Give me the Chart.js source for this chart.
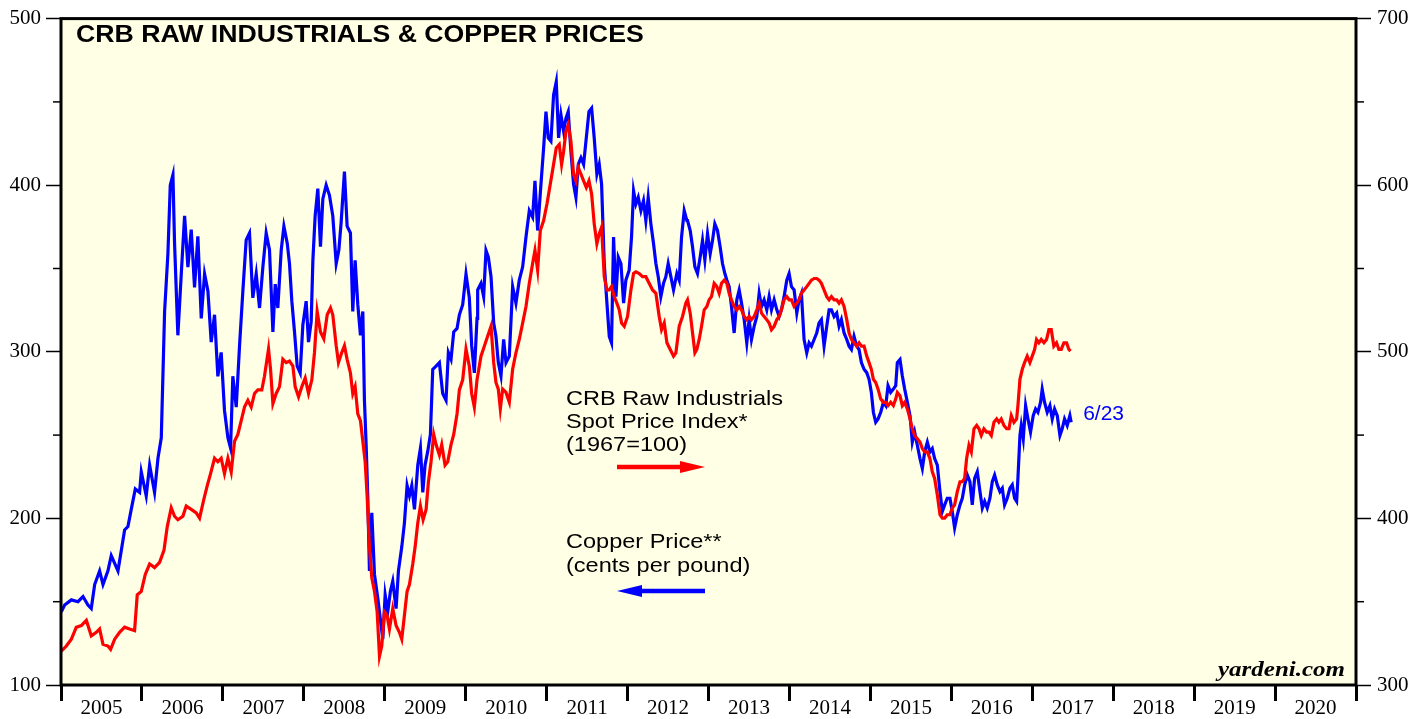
<!DOCTYPE html>
<html>
<head>
<meta charset="utf-8">
<title>CRB Raw Industrials & Copper Prices</title>
<script src="https://cdn.jsdelivr.net/npm/chart.js@4.4.1/dist/chart.umd.min.js"></script>
<style>
  html, body { margin: 0; padding: 0; background: #fff; }
  canvas { display: block; }
</style>
</head>
<body>
<canvas id="crbChart" width="1427" height="719"></canvas>
<script>
// copper price, cents per pound (left axis)
var copperYears = [
  2005.004, 2005.045, 2005.128, 2005.210, 2005.272, 2005.333, 2005.374, 2005.416, 2005.477, 2005.519,
  2005.580, 2005.621, 2005.704, 2005.745, 2005.786, 2005.827, 2005.868, 2005.918, 2005.971, 2005.992,
  2006.053, 2006.095, 2006.156, 2006.198, 2006.239, 2006.280, 2006.321, 2006.350, 2006.383, 2006.403,
  2006.444, 2006.486, 2006.527, 2006.568, 2006.609, 2006.650, 2006.691, 2006.733, 2006.774, 2006.815,
  2006.856, 2006.897, 2006.938, 2006.979, 2007.020, 2007.062, 2007.095, 2007.123, 2007.165, 2007.206,
  2007.247, 2007.288, 2007.329, 2007.370, 2007.412, 2007.453, 2007.494, 2007.535, 2007.576,
  2007.618, 2007.647, 2007.679, 2007.721, 2007.754, 2007.795, 2007.823, 2007.852, 2007.885, 2007.918,
  2007.955, 2007.988, 2008.029, 2008.058, 2008.091, 2008.112, 2008.140, 2008.173, 2008.206, 2008.235,
  2008.276, 2008.317, 2008.358, 2008.400, 2008.433, 2008.461, 2008.502, 2008.535, 2008.576, 2008.605,
  2008.634, 2008.667, 2008.700, 2008.729, 2008.749, 2008.770, 2008.790, 2008.811, 2008.840, 2008.873,
  2008.914, 2008.955, 2008.976, 2009.005, 2009.037, 2009.070, 2009.099, 2009.140, 2009.169, 2009.210,
  2009.243, 2009.276, 2009.305, 2009.334, 2009.367, 2009.408, 2009.441, 2009.470, 2009.498, 2009.531,
  2009.564, 2009.593, 2009.634, 2009.675, 2009.716, 2009.757, 2009.786, 2009.819, 2009.852, 2009.893,
  2009.922, 2009.963, 2010.004, 2010.045, 2010.074, 2010.107, 2010.140,
  2010.148, 2010.189, 2010.222, 2010.251, 2010.280, 2010.313, 2010.346, 2010.374, 2010.403, 2010.436,
  2010.469, 2010.498, 2010.539, 2010.580, 2010.621, 2010.662, 2010.704, 2010.745, 2010.786, 2010.827,
  2010.856, 2010.889, 2010.930, 2010.963, 2010.992, 2011.020, 2011.053, 2011.086, 2011.119, 2011.148,
  2011.177, 2011.210, 2011.239, 2011.267, 2011.300, 2011.333, 2011.362, 2011.391, 2011.424, 2011.457,
  2011.490, 2011.523, 2011.556, 2011.588, 2011.621, 2011.650, 2011.679, 2011.712, 2011.745, 2011.774,
  2011.802, 2011.827, 2011.856, 2011.885, 2011.918, 2011.951, 2011.979, 2012.020, 2012.049, 2012.074,
  2012.103, 2012.132, 2012.165, 2012.197, 2012.226, 2012.255, 2012.288, 2012.321, 2012.350, 2012.379,
  2012.411, 2012.444, 2012.473, 2012.502, 2012.535, 2012.568, 2012.609, 2012.638, 2012.667, 2012.700,
  2012.732,
  2012.741, 2012.774, 2012.803, 2012.832, 2012.864, 2012.897, 2012.926, 2012.955, 2012.988, 2013.021,
  2013.050, 2013.078, 2013.111, 2013.144, 2013.173, 2013.202, 2013.227, 2013.255, 2013.284, 2013.317,
  2013.350, 2013.379, 2013.408, 2013.441, 2013.473, 2013.502, 2013.531, 2013.564, 2013.597, 2013.626,
  2013.655, 2013.687, 2013.720, 2013.749, 2013.778, 2013.811, 2013.844, 2013.873, 2013.901, 2013.934,
  2013.967, 2013.996, 2014.025, 2014.058, 2014.091, 2014.119, 2014.148, 2014.181, 2014.214, 2014.243,
  2014.272, 2014.305, 2014.337, 2014.366, 2014.395, 2014.428, 2014.461, 2014.490, 2014.519, 2014.552,
  2014.584, 2014.613, 2014.642, 2014.675, 2014.708, 2014.737, 2014.766, 2014.798, 2014.831, 2014.860,
  2014.889, 2014.922, 2014.955, 2014.984, 2015.012, 2015.037, 2015.066, 2015.095, 2015.128, 2015.161,
  2015.190, 2015.218, 2015.251, 2015.284, 2015.313,
  2015.333, 2015.366, 2015.395, 2015.424, 2015.457, 2015.490, 2015.518, 2015.547, 2015.580, 2015.613,
  2015.642, 2015.671, 2015.704, 2015.736, 2015.765, 2015.794, 2015.827, 2015.860, 2015.889, 2015.918,
  2015.950, 2015.983, 2016.012, 2016.041, 2016.074, 2016.107, 2016.136, 2016.165, 2016.198, 2016.230,
  2016.259, 2016.288, 2016.321, 2016.354, 2016.383, 2016.412, 2016.444, 2016.477, 2016.506, 2016.535,
  2016.568, 2016.601, 2016.630, 2016.658, 2016.691, 2016.724, 2016.753, 2016.782, 2016.807, 2016.823,
  2016.848, 2016.864, 2016.889, 2016.918, 2016.947, 2016.979, 2017.012, 2017.041, 2017.070, 2017.103,
  2017.123, 2017.152, 2017.185, 2017.218, 2017.247, 2017.276, 2017.309, 2017.342, 2017.370, 2017.399,
  2017.432, 2017.465, 2017.481
];
var copperPrices = [
  143.9, 148.0, 151.1, 150.0, 153.1, 148.0, 145.9, 160.3, 168.5, 160.3,
  168.5, 177.7, 168.5, 180.8, 193.1, 195.1, 205.4, 217.7, 215.6, 227.9,
  213.6, 232.0, 215.6, 236.1, 248.4, 324.2, 359.0, 400.0, 406.2, 365.2,
  309.9, 346.7, 381.6, 350.8, 373.4, 338.6, 369.3, 320.1, 346.7, 336.5,
  305.8, 322.2, 285.3, 299.6, 264.8, 248.4, 242.2, 285.3, 266.8, 303.7,
  336.5, 367.2, 371.3, 332.4, 346.7, 326.3, 350.8, 371.3, 361.1,
  311.9, 340.6, 326.3, 361.1, 375.4, 365.2, 352.9, 330.4, 311.9, 291.4,
  287.3, 316.0, 330.4, 305.8, 318.1, 354.9, 381.6, 398.0, 363.1, 391.8,
  400.0, 393.9, 381.6, 352.9, 361.1, 377.5, 408.2, 375.4, 371.3, 324.2,
  354.9, 328.3, 309.9, 324.2, 270.9, 244.3, 213.6, 168.5, 203.3, 166.4,
  152.1, 135.7, 127.5, 154.1, 143.9, 156.2, 162.3, 145.9, 168.5, 182.8,
  197.2, 219.7, 213.6, 219.7, 205.4, 232.0, 242.2, 215.6, 232.0, 240.2,
  250.4, 289.4, 291.4, 293.5, 275.0, 270.9, 299.6, 295.5, 311.9, 314.0,
  322.2, 328.3, 346.7, 332.4, 303.7, 287.3, 320.1,
  337.1, 341.1, 333.1, 360.9, 356.9, 345.1, 317.3, 309.3, 293.5, 285.5,
  307.4, 293.5, 297.4, 339.1, 329.2, 343.0, 351.0, 368.9, 384.7, 380.8,
  402.6, 372.8, 400.6, 422.4, 444.2, 428.4, 426.4, 454.2, 462.1, 428.4,
  442.3, 432.4, 440.3, 444.2, 420.4, 400.6, 392.7, 412.5, 416.5, 412.5,
  428.4, 444.2, 446.2, 428.4, 406.6, 412.5, 400.6, 353.0, 329.2, 309.3,
  305.4, 368.9, 333.1, 356.9, 353.0, 329.2, 343.0, 349.0, 368.9, 396.6,
  388.7, 392.7, 384.7, 390.7, 378.8, 392.7, 376.8, 364.9, 353.0, 345.1,
  333.1, 341.1, 345.1, 353.0, 345.1, 337.1, 347.0, 343.0, 368.9, 384.7,
  378.8,
  378.8, 372.8, 362.9, 351.0, 347.0, 356.9, 366.9, 355.0, 370.9, 358.9,
  366.9, 376.8, 372.8, 362.9, 353.0, 347.0, 343.0, 339.1, 327.2, 311.3,
  331.2, 337.1, 329.2, 319.3, 305.4, 319.3, 307.4, 315.3, 321.2, 335.1,
  327.2, 331.2, 325.2, 333.1, 325.2, 331.2, 325.2, 321.2, 325.2, 333.1,
  343.0, 347.0, 339.1, 337.1, 323.2, 331.2, 335.1, 307.4, 299.4, 305.4,
  303.4, 307.4, 311.3, 317.3, 319.3, 303.4, 315.3, 325.2, 325.2, 321.2,
  323.2, 315.3, 319.3, 311.3, 307.4, 303.4, 301.4, 309.3, 303.4, 301.4,
  293.5, 289.5, 287.5, 283.5, 275.6, 263.7, 257.7, 259.7, 263.7, 269.7,
  267.7, 279.6, 275.6, 277.6, 279.6,
  293.5, 295.4, 285.5, 277.6, 269.7, 261.7, 245.8, 251.8, 243.9, 235.9,
  230.0, 239.9, 245.8, 239.9, 241.9, 235.9, 232.0, 216.1, 204.2, 208.1,
  212.1, 212.1, 204.2, 194.3, 202.2, 208.1, 212.1, 220.1, 226.0, 222.0,
  208.1, 224.0, 228.0, 216.1, 206.2, 210.2, 206.2, 212.1, 222.0, 226.0,
  220.1, 216.1, 218.1, 208.1, 212.1, 218.1, 220.1, 212.1, 210.2, 224.0,
  249.8, 255.8, 247.8, 267.7, 259.7, 251.8, 261.7, 265.7, 263.7, 269.7,
  277.6, 269.7, 263.7, 267.7, 259.7, 265.7, 261.7, 249.8, 253.8, 259.7,
  255.8, 261.7, 257.7
];

// CRB raw industrials spot price index, 1967=100 (right axis)
var crbYears = [
  2005.004, 2005.066, 2005.128, 2005.189, 2005.251, 2005.313, 2005.374, 2005.436, 2005.477, 2005.519,
  2005.580, 2005.613, 2005.663, 2005.724, 2005.786, 2005.848, 2005.909, 2005.942, 2005.992, 2006.041,
  2006.095, 2006.156, 2006.218, 2006.272, 2006.313, 2006.362, 2006.403, 2006.444, 2006.506, 2006.547,
  2006.609, 2006.671, 2006.712, 2006.765, 2006.807, 2006.848, 2006.897, 2006.938, 2006.979, 2007.020,
  2007.062, 2007.103, 2007.144, 2007.185, 2007.226, 2007.267, 2007.309, 2007.350, 2007.391, 2007.432,
  2007.481, 2007.514, 2007.564,
  2007.589, 2007.618, 2007.659, 2007.700, 2007.741, 2007.782, 2007.823, 2007.865, 2007.893, 2007.935,
  2007.976, 2008.017, 2008.058, 2008.099, 2008.132, 2008.165, 2008.206, 2008.247, 2008.289, 2008.330,
  2008.358, 2008.400, 2008.428, 2008.469, 2008.502, 2008.535, 2008.576, 2008.605, 2008.634, 2008.667,
  2008.700, 2008.729, 2008.758, 2008.782, 2008.811, 2008.840, 2008.873, 2008.906, 2008.935, 2008.963,
  2008.996, 2009.029, 2009.058, 2009.099, 2009.140, 2009.181, 2009.210, 2009.243, 2009.276, 2009.305,
  2009.346, 2009.375, 2009.408, 2009.441, 2009.474, 2009.511, 2009.539, 2009.572, 2009.605, 2009.634,
  2009.675, 2009.704, 2009.745, 2009.778, 2009.819, 2009.852, 2009.893, 2009.922, 2009.963, 2010.004,
  2010.045, 2010.074, 2010.107, 2010.140,
  2010.189, 2010.230, 2010.271, 2010.313, 2010.346, 2010.374, 2010.403, 2010.428, 2010.457, 2010.498,
  2010.539, 2010.580, 2010.621, 2010.662, 2010.704, 2010.745, 2010.786, 2010.827, 2010.856, 2010.889,
  2010.922, 2010.963, 2011.004, 2011.045, 2011.086, 2011.119, 2011.156, 2011.185, 2011.210, 2011.239,
  2011.267, 2011.300, 2011.333, 2011.362, 2011.391, 2011.424, 2011.457, 2011.490, 2011.523, 2011.556,
  2011.588, 2011.621, 2011.650, 2011.679, 2011.712, 2011.745, 2011.774, 2011.802, 2011.835, 2011.868,
  2011.897, 2011.926, 2011.959, 2012.000, 2012.041, 2012.074, 2012.103, 2012.144, 2012.185, 2012.226,
  2012.267, 2012.309, 2012.350, 2012.391, 2012.420, 2012.453, 2012.486, 2012.527, 2012.568, 2012.597,
  2012.638, 2012.679, 2012.720,
  2012.741, 2012.774, 2012.803, 2012.832, 2012.856, 2012.885, 2012.914, 2012.947, 2012.980, 2013.008,
  2013.037, 2013.070, 2013.103, 2013.132, 2013.161, 2013.194, 2013.227, 2013.255, 2013.284, 2013.317,
  2013.350, 2013.379, 2013.408, 2013.441, 2013.473, 2013.502, 2013.531, 2013.564, 2013.597, 2013.626,
  2013.655, 2013.687, 2013.720, 2013.749, 2013.778, 2013.811, 2013.844, 2013.873, 2013.901, 2013.934,
  2013.967, 2013.996, 2014.025, 2014.058, 2014.091, 2014.119, 2014.148, 2014.181, 2014.214, 2014.243,
  2014.272, 2014.305, 2014.337, 2014.366, 2014.395, 2014.428, 2014.461, 2014.490, 2014.519, 2014.552,
  2014.584, 2014.613, 2014.642, 2014.675, 2014.708, 2014.737, 2014.766, 2014.798, 2014.831, 2014.860,
  2014.889, 2014.922, 2014.955, 2014.984, 2015.012, 2015.037, 2015.066, 2015.095, 2015.128, 2015.161,
  2015.190, 2015.218, 2015.251, 2015.284, 2015.313,
  2015.333, 2015.366, 2015.395, 2015.424, 2015.457, 2015.490, 2015.518, 2015.547, 2015.580, 2015.613,
  2015.642, 2015.671, 2015.704, 2015.736, 2015.765, 2015.794, 2015.827, 2015.860, 2015.889, 2015.918,
  2015.950, 2015.983, 2016.012, 2016.041, 2016.074, 2016.107, 2016.136, 2016.165, 2016.189, 2016.218,
  2016.247, 2016.280, 2016.313, 2016.342, 2016.370, 2016.403, 2016.436, 2016.465, 2016.494, 2016.527,
  2016.560, 2016.588, 2016.617, 2016.650, 2016.683, 2016.712, 2016.741, 2016.774, 2016.807, 2016.823,
  2016.848, 2016.877, 2016.905, 2016.938, 2016.971, 2017.000, 2017.029, 2017.053, 2017.082, 2017.111,
  2017.144, 2017.177, 2017.206, 2017.235, 2017.267, 2017.300, 2017.329, 2017.358, 2017.391, 2017.424,
  2017.453, 2017.473
];
var crbIndex = [
  320.3, 323.4, 327.5, 334.7, 335.7, 338.8, 329.5, 331.6, 333.6, 324.4,
  323.4, 321.4, 327.5, 331.6, 334.7, 333.6, 332.6, 354.1, 356.2, 366.4,
  372.6, 370.5, 373.6, 380.8, 395.1, 406.4, 401.3, 399.2, 401.3, 407.4,
  405.4, 403.3, 400.2, 411.5, 419.7, 426.9, 436.1, 434.0, 436.1, 426.9,
  436.1, 427.9, 446.3, 450.4, 458.6, 466.8, 470.9, 466.8, 475.0, 477.1,
  477.1, 485.3, 501.7,
  489.4, 468.9, 475.0, 479.1, 495.5, 493.5, 494.5, 491.4, 479.1, 473.0,
  479.1, 484.2, 475.0, 483.2, 499.6, 524.2, 511.9, 507.8, 522.2, 526.3,
  522.2, 503.7, 493.5, 499.6, 503.7, 495.5, 487.3, 475.0, 479.1, 462.7,
  458.6, 446.3, 434.0, 413.6, 382.8, 364.4, 356.2, 343.9, 317.3, 323.4,
  343.9, 341.8, 333.6, 345.9, 335.7, 331.6, 327.5, 341.8, 356.2, 360.3,
  372.6, 382.8, 397.2, 407.4, 399.2, 405.4, 421.8, 434.0, 450.4, 444.3,
  438.1, 444.3, 432.0, 434.0, 444.3, 450.4, 462.7, 477.1, 483.2, 501.7,
  491.4, 475.0, 466.8, 483.2,
  497.4, 503.4, 509.3, 515.3, 493.5, 481.6, 477.6, 465.7, 477.6, 475.6,
  469.7, 489.5, 499.4, 507.4, 517.3, 527.2, 541.1, 553.0, 560.9, 549.0,
  572.8, 578.8, 588.7, 600.6, 612.5, 622.4, 624.4, 612.5, 620.4, 632.4,
  636.3, 626.4, 606.6, 602.6, 610.5, 606.6, 602.6, 598.6, 602.6, 594.7,
  576.8, 564.9, 570.9, 574.8, 545.1, 537.1, 537.1, 539.1, 533.1, 529.2,
  525.2, 517.3, 515.3, 521.2, 537.1, 547.0, 548.0, 547.0, 545.1, 545.1,
  541.1, 537.1, 535.1, 521.2, 513.3, 517.3, 505.4, 501.4, 497.4, 499.4,
  515.3, 521.2, 529.2,
  531.2, 523.2, 511.3, 499.4, 501.4, 507.4, 515.3, 525.2, 527.2, 531.2,
  533.1, 541.1, 539.1, 535.1, 541.1, 543.0, 541.1, 535.1, 531.2, 527.2,
  525.2, 527.2, 525.2, 521.2, 519.3, 521.2, 519.3, 521.2, 525.2, 529.2,
  523.2, 521.2, 519.3, 517.3, 513.3, 515.3, 519.3, 521.2, 525.2, 531.2,
  533.1, 531.2, 531.2, 527.2, 529.2, 531.2, 535.1, 537.1, 539.1, 541.1,
  543.0, 544.0, 544.0, 543.0, 541.1, 537.1, 533.1, 531.2, 533.1, 531.2,
  531.2, 529.2, 531.2, 527.2, 519.3, 511.3, 507.4, 505.4, 503.4, 505.4,
  503.4, 503.4, 497.4, 493.5, 489.5, 483.5, 481.6, 477.6, 471.6, 469.7,
  469.7, 467.7, 469.7, 467.7, 471.6,
  475.6, 473.6, 467.7, 469.7, 465.7, 459.7, 453.8, 449.8, 447.8, 445.8,
  441.9, 439.9, 439.9, 435.9, 428.0, 424.0, 414.1, 402.2, 400.2, 400.2,
  402.2, 402.2, 406.2, 408.1, 416.1, 422.0, 422.0, 424.0, 435.9, 443.9,
  439.9, 453.8, 455.8, 453.8, 449.8, 453.8, 451.8, 451.8, 449.8, 457.7,
  459.7, 457.7, 459.7, 455.8, 453.8, 453.8, 461.7, 457.7, 459.7, 467.7,
  483.5, 489.5, 493.5, 497.4, 493.5, 497.4, 501.4, 507.4, 505.4, 507.4,
  505.4, 507.4, 513.3, 513.3, 503.4, 505.4, 501.4, 501.4, 505.4, 505.4,
  501.4, 500.4
];

var yearLabels = ["2005", "2006", "2007", "2008", "2009", "2010", "2011", "2012",
  "2013", "2014", "2015", "2016", "2017", "2018", "2019", "2020"];
var lastDateLabel = "6/23";

var copperPoints = copperYears.map(function(yr, i) { return { x: yr, y: copperPrices[i] }; });
var crbPoints = crbYears.map(function(yr, i) { return { x: yr, y: crbIndex[i] }; });

// text stretched horizontally to match the original typesetting
function stretchText(ctx, txt, x, y, font, color, sx, align) {
  ctx.save();
  ctx.font = font;
  ctx.fillStyle = color;
  ctx.textBaseline = 'alphabetic';
  ctx.textAlign = align || 'left';
  ctx.translate(x, y);
  ctx.scale(sx, 1);
  ctx.fillText(txt, 0, 0);
  ctx.restore();
}

function arrow(ctx, fromX, toX, y, color) {
  var dir = toX > fromX ? 1 : -1;
  var headLen = 25, headHalf = 6;
  ctx.save();
  ctx.strokeStyle = color;
  ctx.fillStyle = color;
  ctx.lineWidth = 4.5;
  ctx.beginPath();
  ctx.moveTo(fromX, y);
  ctx.lineTo(toX - dir * headLen, y);
  ctx.stroke();
  ctx.beginPath();
  ctx.moveTo(toX, y);
  ctx.lineTo(toX - dir * headLen, y - headHalf);
  ctx.lineTo(toX - dir * headLen, y + headHalf);
  ctx.closePath();
  ctx.fill();
  ctx.restore();
}

var paperPlugin = {
  id: 'paper',
  beforeDraw: function(chart) {
    var a = chart.chartArea, ctx = chart.ctx;
    ctx.save();
    ctx.fillStyle = '#FFFFE5';
    ctx.fillRect(a.left, a.top, a.right - a.left, a.bottom - a.top);
    ctx.restore();
  },
  afterDraw: function(chart) {
    var a = chart.chartArea, ctx = chart.ctx;
    ctx.save();
    // frame
    ctx.strokeStyle = '#000';
    ctx.lineWidth = 3;
    ctx.strokeRect(a.left, a.top, a.right - a.left, a.bottom - a.top);

    // short minor ticks on both value axes
    ctx.lineWidth = 1.5;
    ['yLeft', 'yRight'].forEach(function(id) {
      var sc = chart.scales[id];
      sc.ticks.forEach(function(t) {
        if (t.value % 100 === 0) return;
        var py = sc.getPixelForValue(t.value);
        ctx.beginPath();
        if (id === 'yLeft') { ctx.moveTo(a.left - 8, py); ctx.lineTo(a.left, py); }
        else { ctx.moveTo(a.right, py); ctx.lineTo(a.right + 8, py); }
        ctx.stroke();
      });
    });
    ctx.restore();

    stretchText(ctx, 'CRB RAW INDUSTRIALS & COPPER PRICES', 76, 42, 'bold 23px "Liberation Sans"', '#000', 1.16);

    var legendFont = '21px "Liberation Sans"';
    stretchText(ctx, 'CRB Raw Industrials', 566, 405, legendFont, '#000', 1.12);
    stretchText(ctx, 'Spot Price Index*', 566, 428, legendFont, '#000', 1.12);
    stretchText(ctx, '(1967=100)', 566, 451, legendFont, '#000', 1.12);
    arrow(ctx, 617, 705, 467, '#FF0000');

    stretchText(ctx, 'Copper Price**', 566, 548, legendFont, '#000', 1.12);
    stretchText(ctx, '(cents per pound)', 566, 572, legendFont, '#000', 1.12);
    arrow(ctx, 705, 617, 591, '#0000FF');

    var lastX = chart.scales.x.getPixelForValue(copperYears[copperYears.length - 1]);
    stretchText(ctx, lastDateLabel, lastX + 12, 420, '20px "Liberation Sans"', '#0000FF', 1.05);

    stretchText(ctx, 'yardeni.com', 1345, 676, 'bold italic 21px "Liberation Serif"', '#000', 1.19, 'right');
  }
};

var ctx = document.getElementById('crbChart');
var crbChart = new Chart(ctx, {
  type: 'line',
  data: {
    datasets: [{
      label: 'CRB Raw Industrials Spot Price Index',
      data: crbPoints,
      yAxisID: 'yRight',
      borderColor: '#FF0000',
      borderWidth: 3.2,
      pointRadius: 0,
      tension: 0,
      order: 1
    }, {
      label: 'Copper Price',
      data: copperPoints,
      yAxisID: 'yLeft',
      borderColor: '#0000FF',
      borderWidth: 3.2,
      pointRadius: 0,
      tension: 0,
      order: 2
    }]
  },
  options: {
    responsive: false,
    animation: false,
    layout: { padding: { top: 13, left: 0, right: 0, bottom: 0 } },
    plugins: { legend: { display: false }, tooltip: { enabled: false } },
    scales: {
      x: {
        type: 'linear',
        min: 2005,
        max: 2021,
        afterFit: function(s) { s.height = 34; },
        border: { display: false },
        grid: { drawOnChartArea: false, tickLength: 16, tickWidth: 3, tickColor: '#000' },
        ticks: {
          stepSize: 1,
          autoSkip: false,
          maxRotation: 0,
          labelOffset: 40.5,
          padding: -5,
          color: '#000',
          font: { family: '"Liberation Serif"', size: 21 },
          callback: function(v) { return yearLabels[v - 2005] || ''; }
        }
      },
      yLeft: {
        position: 'left',
        min: 100,
        max: 500,
        afterFit: function(s) { s.width = 61; },
        border: { display: false },
        grid: {
          drawOnChartArea: false, tickLength: 15, tickWidth: 1.5,
          tickColor: function(c) { return c.tick && c.tick.value % 100 === 0 ? '#000' : 'rgba(0,0,0,0)'; }
        },
        ticks: {
          stepSize: 50,
          padding: 5,
          color: '#000',
          font: { family: '"Liberation Serif"', size: 21 },
          callback: function(v) { return v % 100 === 0 ? v : ''; }
        }
      },
      yRight: {
        position: 'right',
        min: 300,
        max: 700,
        afterFit: function(s) { s.width = 71; },
        border: { display: false },
        grid: {
          drawOnChartArea: false, tickLength: 15, tickWidth: 1.5,
          tickColor: function(c) { return c.tick && c.tick.value % 100 === 0 ? '#000' : 'rgba(0,0,0,0)'; }
        },
        ticks: {
          stepSize: 50,
          padding: 6,
          color: '#000',
          font: { family: '"Liberation Serif"', size: 21 },
          callback: function(v) { return v % 100 === 0 ? v : ''; }
        }
      }
    }
  },
  plugins: [paperPlugin]
});
</script>
</body>
</html>
